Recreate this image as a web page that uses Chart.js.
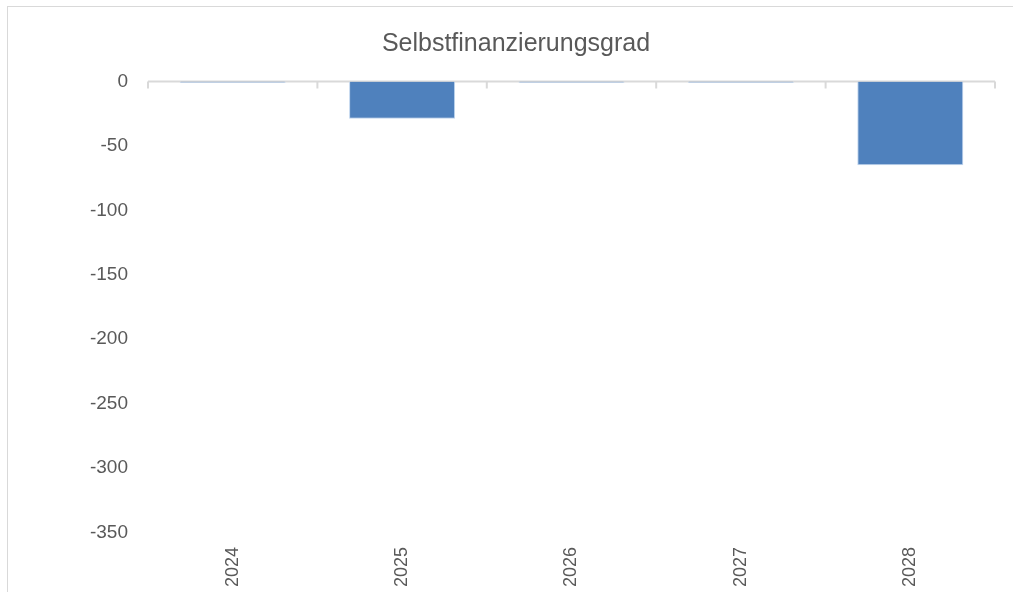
<!DOCTYPE html>
<html><head><meta charset="utf-8">
<script src="https://cdn.jsdelivr.net/npm/chart.js@4"></script>
<style>
html,body{margin:0;padding:0;background:#fff;}
#wrap{position:relative;width:1013px;height:592px;overflow:hidden;}
#frame{position:absolute;left:7px;top:6px;width:1100px;height:700px;border-left:1.5px solid #d9d9d9;border-top:1.5px solid #d9d9d9;pointer-events:none;}
canvas{position:absolute;left:0;top:0;}
</style></head>
<body>
<div id="wrap"><canvas id="c" width="1013" height="592"></canvas><div id="frame"></div></div>
<script>
const categories = ['2024','2025','2026','2027','2028'];
const values = [-1, -29, -1, -1, -65];
const yTicks = [0, -50, -100, -150, -200, -250, -300, -350];
const title = 'Selbstfinanzierungsgrad';

const FONT = "'Liberation Sans', Arial, sans-serif";

const axisPlugin = {
  id: 'axisPlugin',
  beforeDatasetsDraw(chart) {
    const {ctx, scales: {x, y}} = chart;
    const y0 = y.getPixelForValue(0);
    const n = categories.length;
    const half = (x.getPixelForValue(1) - x.getPixelForValue(0)) / 2;
    const left = x.getPixelForValue(0) - half;
    const right = x.getPixelForValue(n - 1) + half;
    ctx.save();
    ctx.strokeStyle = '#d9d9d9';
    ctx.lineWidth = 2;
    ctx.beginPath();
    ctx.moveTo(left, y0);
    ctx.lineTo(right, y0);
    for (let i = 0; i <= n; i++) {
      const px = left + i * 2 * half;
      ctx.moveTo(px, y0);
      ctx.lineTo(px, y0 + 7);
    }
    ctx.stroke();
    ctx.restore();
  }
};

new Chart(document.getElementById('c'), {
  type: 'bar',
  data: {
    labels: categories,
    datasets: [{
      data: values,
      backgroundColor: '#4f81bd',
      borderColor: '#c0d5ee',
      borderWidth: 1,
      categoryPercentage: 1,
      barPercentage: 0.626
    }]
  },
  options: {
    responsive: false,
    animation: false,
    layout: {padding: {left: 37, right: 18, top: 0, bottom: 0}},
    plugins: {
      legend: {display: false},
      tooltip: {enabled: false},
      title: {
        display: true,
        text: title,
        color: '#595959',
        font: {family: FONT, size: 25, weight: 'normal', lineHeight: 1.2},
        padding: {top: 29.5, bottom: 22}
      }
    },
    scales: {
      x: {
        position: 'bottom',
        grid: {display: false, drawTicks: false},
        border: {display: false},
        ticks: {
          color: '#595959',
          font: {family: FONT, size: 18},
          minRotation: 90, maxRotation: 90,
          padding: 14.5
        },
        afterFit(scale) { scale.height = 59.5; }
      },
      y: {
        min: -350, max: 0,
        grid: {display: false, drawTicks: false},
        border: {display: false},
        afterBuildTicks(scale) { scale.ticks = yTicks.map(v => ({value: v})); },
        ticks: {
          color: '#595959',
          font: {family: FONT, size: 19},
          padding: 20
        },
        afterFit(scale) { scale.width = 111; }
      }
    }
  },
  plugins: [axisPlugin]
});
</script>
</body></html>
